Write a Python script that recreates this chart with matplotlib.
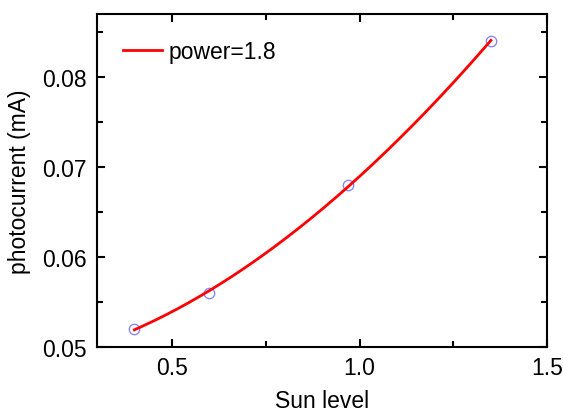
import numpy as np
import matplotlib.pyplot as plt
from matplotlib.ticker import MultipleLocator

plt.rcParams['font.family'] = ['Liberation Sans', 'DejaVu Sans']

# measured points
sun = [0.4, 0.6, 0.97, 1.35]
current = [0.052, 0.056, 0.068, 0.084]
power = 1.8

# fit y = a + b*x^power to the measured points
t = np.array(sun) ** power
A = np.vstack([np.ones_like(t), t]).T
a, b = np.linalg.lstsq(A, np.array(current), rcond=None)[0]
xf = np.linspace(min(sun), max(sun), 200)
yf = a + b * xf ** power

fig = plt.figure(figsize=(5.63, 4.14), dpi=100)
ax = fig.add_axes([0.172, 0.160, 0.800, 0.804])

ax.plot(sun, current, 'o', mfc='none', mec='#7f7fff', ms=7.5, mew=0.9)
ax.plot(xf, yf, color='red', lw=2.0, label='power=1.8')

ax.set_xlim(0.3, 1.5)
ax.set_ylim(0.05, 0.087)
ax.xaxis.set_minor_locator(MultipleLocator(0.25))
ax.yaxis.set_minor_locator(MultipleLocator(0.005))
ax.set_xticks([0.5, 1.0, 1.5])
ax.set_xticklabels(['0.5', '1.0', '1.5'])
ax.set_yticks([0.05, 0.06, 0.07, 0.08])
ax.set_yticklabels(['0.05', '0.06', '0.07', '0.08'])

ax.tick_params(which='both', direction='in', top=True, right=True, width=1.5,
               labelsize=16.5, pad=7)
ax.tick_params(which='major', length=6)
ax.tick_params(which='minor', length=4)
for s in ax.spines.values():
    s.set_linewidth(1.5)

ax.set_xlabel('Sun level', fontsize=16.5, labelpad=7)
ax.set_ylabel('photocurrent (mA)', fontsize=16.5, labelpad=8)

ax.legend(loc='upper left', frameon=False, fontsize=16.5, handlelength=1.7,
          handletextpad=0.3, bbox_to_anchor=(0.012, 0.985))

fig.savefig('out.png', dpi=100)
